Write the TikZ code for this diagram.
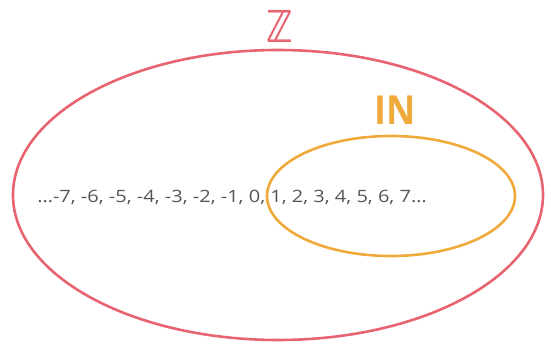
\documentclass[tikz,border=0pt]{standalone}
\usepackage{fontspec}
\usetikzlibrary{shapes.geometric}
\setmainfont{Open Sans}
\newfontfamily\djv{DejaVu Sans}
\definecolor{zred}{RGB}{232,100,112}
\definecolor{norange}{RGB}{240,170,60}
\definecolor{numgray}{RGB}{85,85,85}
\tikzset{
  setline/.style={line width=2.6pt},
  lbl/.style={inner sep=0pt, anchor=center},
}
\begin{document}
\begin{tikzpicture}[x=1pt,y=-1pt]
\useasboundingbox (0,0) rectangle (551,347);
\node[setline, draw=zred, ellipse, minimum width=530, minimum height=290, inner sep=0pt] (Zset) at (278,195) {};
\node[setline, draw=norange, ellipse, minimum width=248, minimum height=120, inner sep=0pt] (Nset) at (391,196) {};
\node[lbl, text=zred] (Zlab) at (280,26) {\djv\bfseries\fontsize{44}{44}\selectfont\scalebox{0.8}[1]{ℤ}};
\node[lbl, text=norange] (Nlab) at (395,110) {\fontsize{40}{40}\selectfont\bfseries\scalebox{0.9}[1]{IN}};
\node[lbl, text=numgray] (nums) at (232,197) {\fontsize{20}{20}\selectfont\scalebox{1}[0.85]{…-7, -6, -5, -4, -3, -2, -1, 0, 1, 2, 3, 4, 5, 6, 7…}};
\end{tikzpicture}
\end{document}
